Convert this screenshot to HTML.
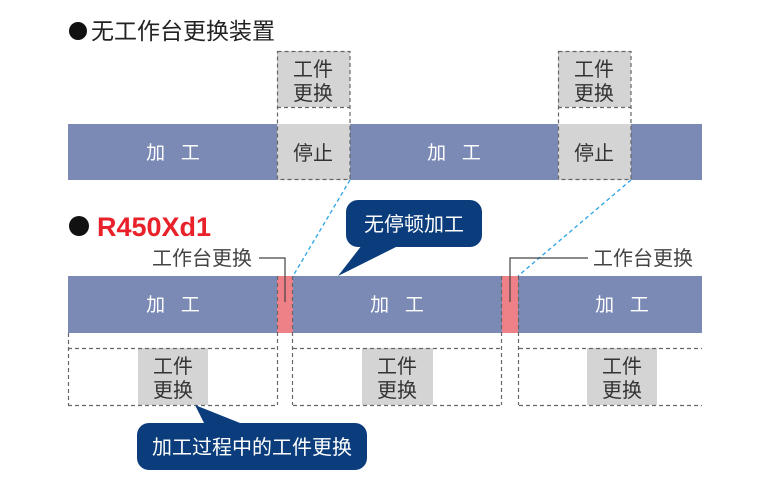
<!DOCTYPE html>
<html><head><meta charset="utf-8"><style>
html,body{margin:0;padding:0;background:#fff;}
svg text{font-family:"Liberation Sans","Noto Sans CJK SC",sans-serif;}
</style></head><body>
<svg width="768" height="486" viewBox="0 0 768 486" xmlns="http://www.w3.org/2000/svg">
<!-- titles -->
<circle cx="78" cy="31" r="9" fill="#111"/>
<text x="91" y="39" font-size="23" fill="#222">无工作台更换装置</text>
<circle cx="79" cy="226" r="10" fill="#111"/>
<text x="97" y="236" font-size="27" font-weight="bold" fill="#e8212a">R450Xd1</text>

<!-- top bar -->
<rect x="68" y="124" width="634" height="56" fill="#7b89b5"/>
<rect x="277" y="124" width="73" height="56" fill="#d4d4d4"/>
<rect x="558" y="124" width="73" height="56" fill="#d4d4d4"/>
<rect x="277" y="51" width="73" height="56" fill="#d4d4d4"/>
<rect x="558" y="51" width="73" height="56" fill="#d4d4d4"/>
<g fill="none" stroke="#666" stroke-width="1.2" stroke-dasharray="4,3">
<rect x="277.5" y="51.5" width="72.5" height="128"/>
<line x1="277" y1="107.5" x2="350" y2="107.5"/>
<rect x="558.5" y="51.5" width="72.5" height="128"/>
<line x1="558" y1="107.5" x2="631" y2="107.5"/>
</g>
<g font-size="20" fill="#333" text-anchor="middle">
<text x="313" y="76">工件</text><text x="313" y="100">更换</text>
<text x="594" y="76">工件</text><text x="594" y="100">更换</text>
<text x="313" y="160">停止</text><text x="594" y="160">停止</text>
</g>
<g font-size="19" fill="#fff" text-anchor="middle">
<text x="173" y="159" xml:space="preserve">加   工</text>
<text x="454" y="159" xml:space="preserve">加   工</text>
</g>

<!-- blue dashed links -->
<g stroke="#2aa3e8" stroke-width="1.3" stroke-dasharray="4,3">
<line x1="350" y1="180" x2="293" y2="276"/>
<line x1="631" y1="180" x2="518" y2="276"/>
</g>

<!-- bottom bar -->
<rect x="68" y="276" width="634" height="57" fill="#7b89b5"/>
<rect x="277" y="276" width="16" height="57" fill="#ee8088"/>
<rect x="502" y="276" width="16" height="57" fill="#ee8088"/>
<g font-size="19" fill="#fff" text-anchor="middle">
<text x="173" y="311" xml:space="preserve">加   工</text>
<text x="397" y="311" xml:space="preserve">加   工</text>
<text x="622" y="311" xml:space="preserve">加   工</text>
</g>
<rect x="138" y="348" width="70" height="57" fill="#d4d4d4"/>
<rect x="362" y="348" width="71" height="57" fill="#d4d4d4"/>
<rect x="587" y="348" width="70" height="57" fill="#d4d4d4"/>
<g fill="none" stroke="#666" stroke-width="1.2" stroke-dasharray="4,3">
<line x1="68.5" y1="333" x2="68.5" y2="405"/>
<line x1="277.5" y1="276" x2="277.5" y2="405"/>
<line x1="292.5" y1="276" x2="292.5" y2="405"/>
<line x1="501.5" y1="276" x2="501.5" y2="405"/>
<line x1="518.5" y1="276" x2="518.5" y2="405"/>
<line x1="68" y1="348.5" x2="277" y2="348.5"/>
<line x1="68" y1="405.5" x2="277" y2="405.5"/>
<line x1="293" y1="348.5" x2="501" y2="348.5"/>
<line x1="293" y1="405.5" x2="501" y2="405.5"/>
<line x1="519" y1="348.5" x2="702" y2="348.5"/>
<line x1="519" y1="405.5" x2="702" y2="405.5"/>
</g>
<g font-size="20" fill="#333" text-anchor="middle">
<text x="173" y="373">工件</text><text x="173" y="397">更换</text>
<text x="397" y="373">工件</text><text x="397" y="397">更换</text>
<text x="622" y="373">工件</text><text x="622" y="397">更换</text>
</g>

<!-- labels with leaders -->
<g fill="none" stroke="#444" stroke-width="1.2">
<polyline points="259,258 285,258 285,302"/>
<polyline points="588,258 510,258 510,302"/>
</g>
<g font-size="20" fill="#444">
<text x="152" y="265">工作台更换</text>
<text x="593" y="265">工作台更换</text>
</g>

<!-- callouts -->
<rect x="346" y="200" width="136" height="47" rx="12" fill="#0b3d7c"/>
<polygon points="362,245 400,245 338,276" fill="#0b3d7c"/>
<text x="414" y="231" font-size="20" fill="#fff" text-anchor="middle">无停顿加工</text>
<rect x="137" y="423" width="230" height="47" rx="12" fill="#0b3d7c"/>
<polygon points="195,405 245,425 205,425" fill="#0b3d7c"/>
<text x="252" y="454" font-size="20" fill="#fff" text-anchor="middle">加工过程中的工件更换</text>
</svg>
</body></html>
